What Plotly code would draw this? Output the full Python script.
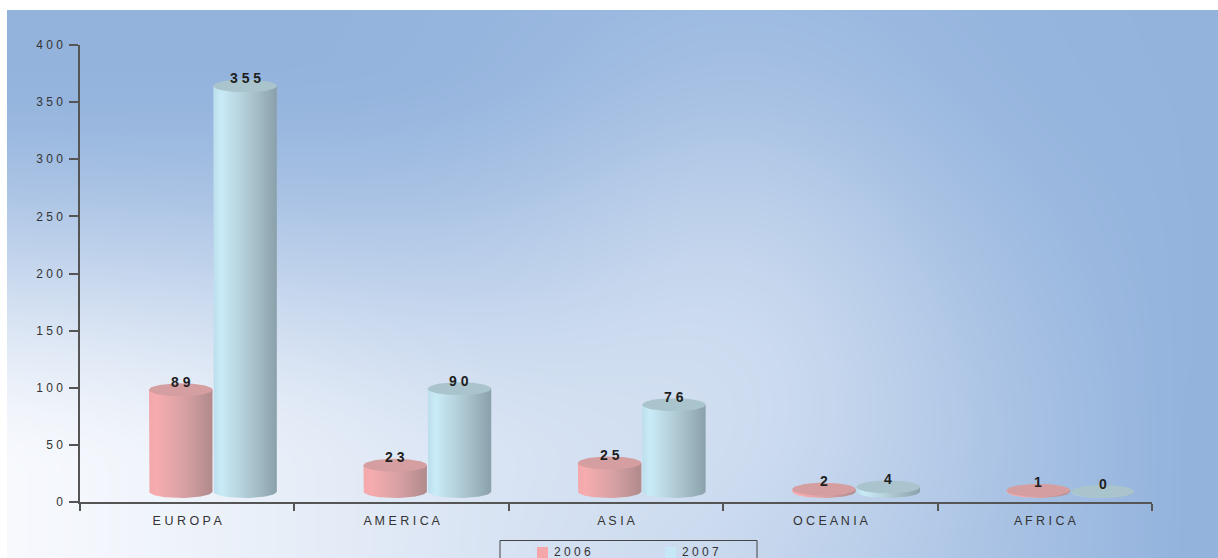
import numpy as np
import plotly.graph_objects as go

# ---- data -------------------------------------------------------------
CATEGORIES = ["EUROPA", "AMERICA", "ASIA", "OCEANIA", "AFRICA"]
YEARS = ["2006", "2007"]
VALUES_2006 = [89, 23, 25, 2, 1]
VALUES_2007 = [355, 90, 76, 4, 0]
Y_TICKS = [0, 50, 100, 150, 200, 250, 300, 350, 400]

# ---- page geometry (pixels) ------------------------------------------
W, H = 1218, 558
PLOT_L, PLOT_R, PLOT_T, PLOT_B = 80, 1152, 45, 502
BG_L, BG_T = 7, 10
Y_MAX = 400
UNITS_PER_PX = Y_MAX / (PLOT_B - PLOT_T)

FONT = "Liberation Sans, Arial, sans-serif"
AXIS_COLOR = "#555555"


def spaced(s):
    return " ".join(str(s))


def smooth(a):
    a = np.clip(a, 0, 1)
    return a * a * (3 - 2 * a)


# cylinder styling
BAR_W = 0.296
SERIES_CENTER = [-0.03, 0.27]           # offsets from category centre
LIFT = 10.5 * UNITS_PER_PX              # cylinders float slightly above the axis
ELL_RY = 6.5 * UNITS_PER_PX             # vertical semi-axis of top/bottom ellipses
SIDE_SCALES = [
    [[0, "#f3a8ab"], [0.12, "#f6acae"], [0.55, "#d8a1a4"], [1, "#b08a8c"]],
    [[0, "#bcdeec"], [0.12, "#c9ebf8"], [0.55, "#afc9d3"], [1, "#8aa1ab"]],
]
TOP_COLORS = ["#d59ea0", "#a9c4cc"]
LEGEND_COLORS = ["#f4a6a9", "#c6e8f6"]

fig = go.Figure()

# ---- background wash (full-page heatmap on its own axes) ---------------
nx, ny = 200, 100
gx = np.linspace(0, 1, nx)
gy = np.linspace(0, 1, ny)
px = BG_L + gx * (W - BG_L)
py = BG_T + (1 - gy) * (H - BG_T)
PX, PY = np.meshgrid(px, py)
XN, YN = PX / W, PY / H
# pale corner at the bottom left, fading upwards and to the right
w1 = smooth((YN - 0.1) / 0.75) * np.clip(1 - (XN / 0.97) ** 1.3, 0, 1)
# faint glow in the middle of the panel
w2 = 0.35 * np.exp(-((PX - 740) / 220) ** 2 - ((PY - 290) / 260) ** 2)
wash = 1 - (1 - w1) * (1 - w2)
fig.add_trace(go.Heatmap(
    x=gx, y=gy, z=wash, zmin=0, zmax=1, zsmooth="best", showscale=False,
    colorscale=[[0, "#93b3dd"], [1, "#f7f9fd"]], hoverinfo="skip",
    xaxis="x", yaxis="y",
))

# ---- cylinders ----------------------------------------------------------
t = np.linspace(0, np.pi, 40)
tt = np.linspace(0, 2 * np.pi, 80)
series = [VALUES_2006, VALUES_2007]
labels = []
for s, vals in enumerate(series):
    for i, v in enumerate(vals):
        xc = i + SERIES_CENTER[s]
        hw = BAR_W / 2
        y0 = LIFT
        y1 = v + LIFT
        # side: left edge down, front arc of base, right edge up
        sx = np.concatenate([[xc - hw, xc - hw], xc - hw * np.cos(t), [xc + hw]])
        sy = np.concatenate([[y1, y0], y0 - ELL_RY * np.sin(t), [y1]])
        fig.add_trace(go.Scatter(
            x=sx, y=sy, mode="lines", fill="toself", line=dict(width=0),
            fillgradient=dict(type="horizontal", colorscale=SIDE_SCALES[s]),
            hoverinfo="skip", showlegend=False, xaxis="x2", yaxis="y2",
        ))
        # top cap
        fig.add_trace(go.Scatter(
            x=xc + hw * np.cos(tt), y=y1 + ELL_RY * np.sin(tt),
            mode="lines", fill="toself", line=dict(width=0),
            fillcolor=TOP_COLORS[s], hoverinfo="skip", showlegend=False,
            xaxis="x2", yaxis="y2",
        ))
        labels.append(dict(
            x=xc, y=y1, xref="x2", yref="y2", text="<b>%s</b>" % spaced(v),
            showarrow=False, yshift=8, yanchor="middle",
            font=dict(family=FONT, size=14, color="#1e1e1e"),
        ))

# ---- legend (drawn beneath the axis) ------------------------------------
shapes = [dict(type="rect", xref="paper", yref="paper",
               x0=500 / W, x1=757 / W, y0=-0.05, y1=(H - 540.5) / H,
               line=dict(color="#444444", width=1), fillcolor="rgba(0,0,0,0)")]
legend_x = [537, 665]
for k, yr in enumerate(YEARS):
    shapes.append(dict(type="rect", xref="paper", yref="paper",
                       x0=legend_x[k] / W, x1=(legend_x[k] + 11) / W,
                       y0=-0.02, y1=(H - 547) / H,
                       line=dict(width=0), fillcolor=LEGEND_COLORS[k]))
    labels.append(dict(x=(legend_x[k] + 15) / W, y=(H - 552) / H,
                       xref="paper", yref="paper", xanchor="left",
                       yanchor="middle", showarrow=False, text=spaced(yr),
                       font=dict(family=FONT, size=12, color="#333333")))

n = len(CATEGORIES)
fig.update_layout(
    width=W, height=H,
    margin=dict(l=0, r=0, t=0, b=0, autoexpand=False),
    paper_bgcolor="white",
    plot_bgcolor="rgba(0,0,0,0)",
    showlegend=False,
    xaxis=dict(domain=[BG_L / W, 1], range=[0, 1], visible=False,
               fixedrange=True, automargin=False),
    yaxis=dict(domain=[0, (H - BG_T) / H], range=[0, 1], visible=False,
               fixedrange=True, automargin=False),
    xaxis2=dict(
        domain=[PLOT_L / W, PLOT_R / W], range=[-0.5, n - 0.5], anchor="y2",
        automargin=False,
        tickmode="array", tickvals=list(range(n)),
        ticktext=[spaced(c) for c in CATEGORIES],
        ticks="outside", ticklen=2, tickcolor="rgba(0,0,0,0)",
        ticklabelstandoff=4,
        minor=dict(tickmode="array", tickvals=[i - 0.5 for i in range(n + 1)],
                   ticks="outside", ticklen=7, tickwidth=1.5,
                   tickcolor=AXIS_COLOR, showgrid=False),
        showline=True, linecolor=AXIS_COLOR, linewidth=1.5,
        showgrid=False, zeroline=False,
        tickfont=dict(family=FONT, size=12.5, color="#333333"),
    ),
    yaxis2=dict(
        domain=[(H - PLOT_B) / H, (H - PLOT_T) / H], range=[0, Y_MAX],
        anchor="x2", automargin=False,
        tickmode="array", tickvals=Y_TICKS,
        ticktext=[spaced(v) for v in Y_TICKS],
        ticks="outside", ticklen=9, tickwidth=1.5, tickcolor=AXIS_COLOR,
        ticklabelstandoff=4,
        showline=True, linecolor=AXIS_COLOR, linewidth=1.5,
        showgrid=False, zeroline=False,
        tickfont=dict(family=FONT, size=12, color="#333333"),
    ),
    shapes=shapes,
    annotations=labels,
)

fig.write_html("out.html")
